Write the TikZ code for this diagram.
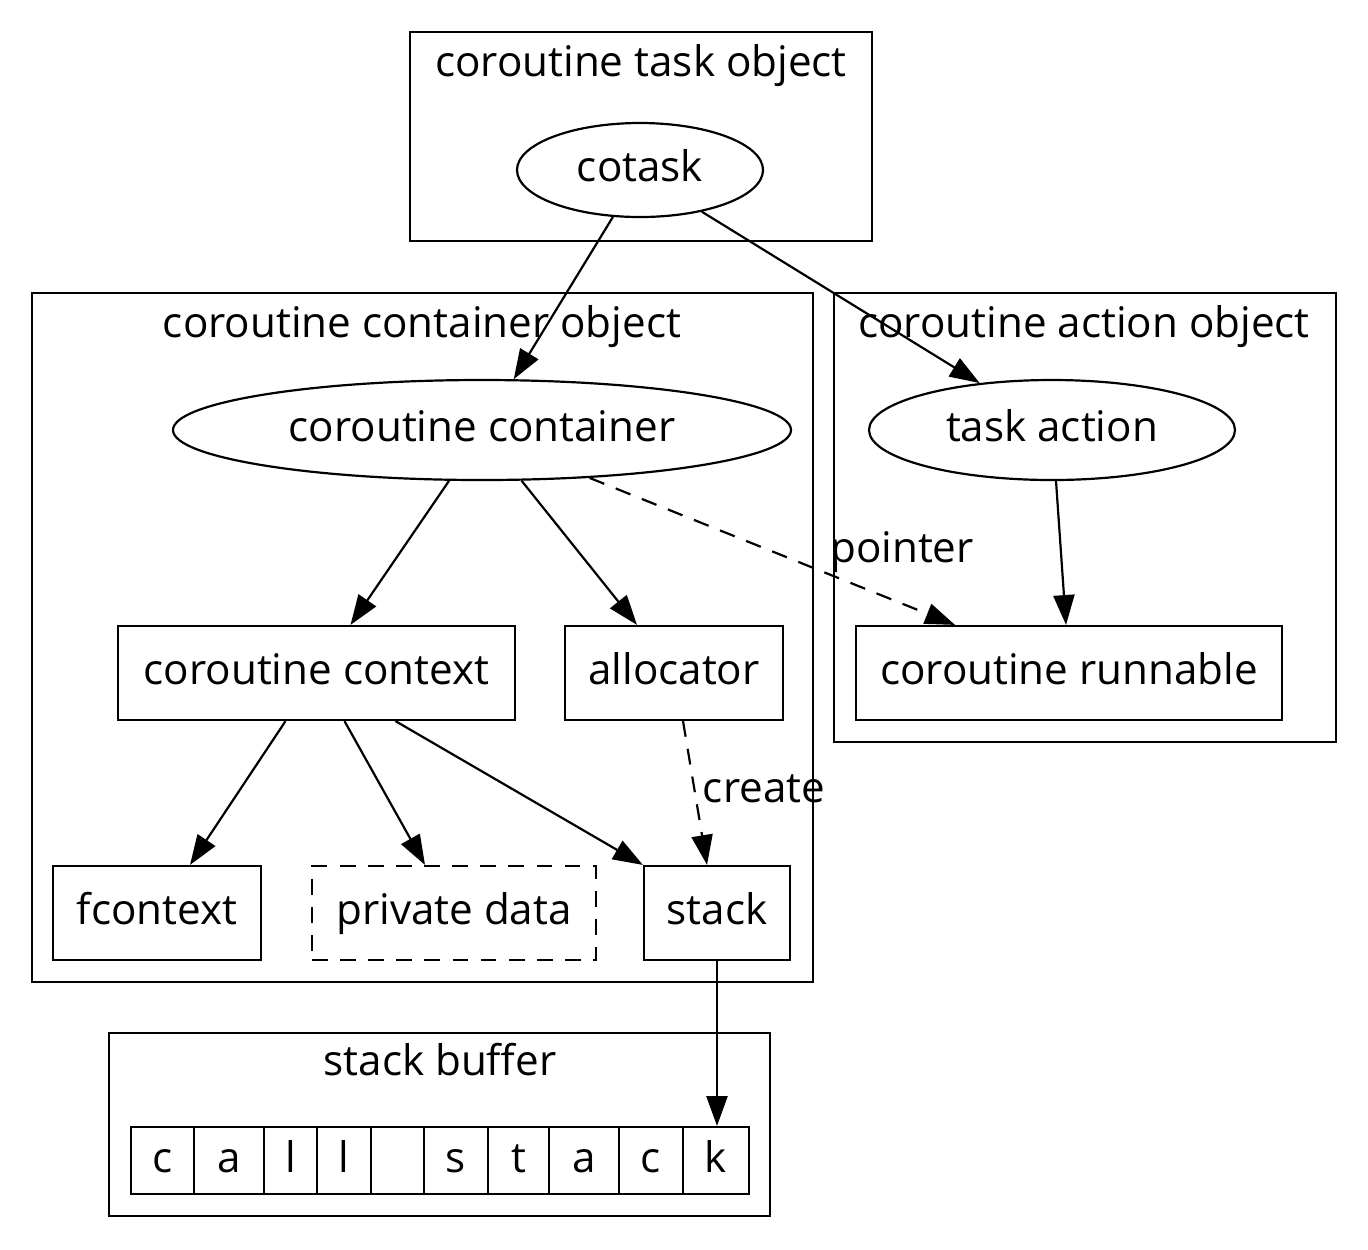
\documentclass[tikz,border=0pt]{standalone}
\usepackage{fontspec}
\setmainfont{Open Sans}
\usetikzlibrary{calc,arrows.meta,shapes.geometric}

\begin{document}
\begin{tikzpicture}[x=0.02cm, y=-0.02cm, line width=1.25pt,
	every node/.style={font=\fontsize{24}{29}\selectfont, inner sep=0pt,
		text height=13.2pt, text depth=0pt},
	cluster/.style={draw},
	lbl/.style={anchor=base},
	obj/.style={draw, ellipse},
	box/.style={draw, rectangle, minimum height={94*0.02cm}},
	cell/.style={draw, rectangle, minimum height={67*0.02cm}},
	dashline/.style={dash pattern=on 9pt off 7pt},
	link/.style={-{Triangle[length=17pt, width=12pt]}},
	weak/.style={link, dashline}]

	\useasboundingbox (0,0) rectangle (1368,1249);

	% clusters
	\draw[cluster] (410,32) rectangle (872,241);
	\node[lbl] (tasklbl) at (641,76) {coroutine task object};

	\draw[cluster] (32,293) rectangle (813,982);
	\node[lbl] (contlbl) at (422,337) {coroutine container object};

	\draw[cluster] (834,293) rectangle (1336,742);
	\node[lbl] (actlbl) at (1084,337) {coroutine action object};

	\draw[cluster] (109,1033) rectangle (770,1216);
	\node[lbl] (buflbl) at (440,1075) {stack buffer};

	% nodes
	\node[obj, minimum width={246*0.02cm}, minimum height={94*0.02cm}] (cotask) at (640,170) {cotask};
	\node[obj, minimum width={618*0.02cm}, minimum height={100*0.02cm}] (ccont) at (482,430) {coroutine container};
	\node[obj, minimum width={366*0.02cm}, minimum height={100*0.02cm}] (act) at (1052,430) {task action};

	\node[box, minimum width={397*0.02cm}] (ctx) at (316.5,673) {coroutine context};
	\node[box, minimum width={218*0.02cm}] (alloc) at (674,673) {allocator};
	\node[box, minimum width={426*0.02cm}] (run) at (1069,673) {coroutine runnable};

	\node[box, minimum width={208*0.02cm}] (fctx) at (157,913) {fcontext};
	\node[box, dashline, minimum width={284*0.02cm}] (priv) at (454,913) {private data};
	\node[box, minimum width={146*0.02cm}] (stack) at (717,913) {stack};

	\foreach \l/\r/\ch [count=\i] in {131/194/c, 194/264/a, 264/317/l, 317/371/l, 371/424/{},
		424/488/s, 488/549/t, 549/619/a, 619/683/c, 683/749/k}
		\node[cell, minimum width={(\r-\l)*0.02cm}] (cell\i) at ({(\l+\r)/2},1160.5) {\ch};

	% edges
	\draw[link] (cotask.240) -- (ccont.58);
	\draw[link] (cotask.326) -- (act.147);
	\draw[link] (ccont.237) -- ($(ctx.north)+(34,0)$);
	\draw[link] (ccont.308) -- ($(alloc.north)+(-37,0)$);
	\draw[weak] (ccont.336) -- ($(run.north)+(-114,0)$);
	\node[lbl] (ptrlbl) at (902,562) {pointer};
	\draw[link] ($(act.south)+(4,0)$) -- ($(run.north)+(-3,0)$);

	\draw[link] ($(ctx.south)+(-31,0)$) -- ($(fctx.north)+(33,0)$);
	\draw[link] ($(ctx.south)+(28,0)$) -- ($(priv.north)+(-29,0)$);
	\draw[link] ($(ctx.south)+(79,0)$) -- (stack.north west);
	\draw[weak] ($(alloc.south)+(9,0)$) -- ($(stack.north)+(-10,0)$);
	\node[lbl] (crlbl) at (764,802) {create};

	\draw[link] (stack.south) -- (stack.south |- cell10.north);

\end{tikzpicture}
\end{document}
